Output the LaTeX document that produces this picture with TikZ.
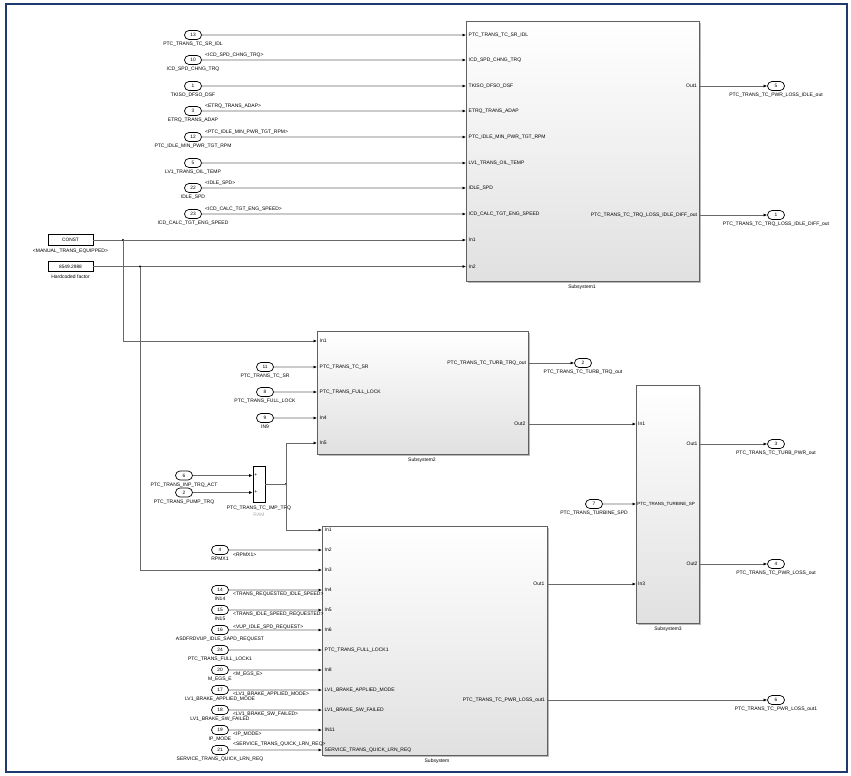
\documentclass[tikz,border=0pt]{standalone}
\usepackage{fontspec}
\setmainfont{Liberation Sans}
\usetikzlibrary{shapes.misc,arrows.meta,positioning,shadows}

\definecolor{framecol}{RGB}{31,58,110}
\definecolor{wirecol}{RGB}{105,105,105}

\tikzset{
  txt/.style={font=\fontsize{5}{5.5}\selectfont, inner sep=0pt},
  portnum/.style={rounded rectangle, draw=black, line width=0.7pt, fill=white,
    minimum width=17pt, minimum height=9pt, inner sep=0pt,
    font=\fontsize{4.8}{5}\selectfont},
  wire/.style={draw=wirecol, line width=0.65pt},
  arr/.style={wire, -{Latex[length=3.5pt,width=3pt,color=black]}},
  subsys/.style={draw=gray!75!black, line width=0.7pt, anchor=north west,
    inner sep=0pt, top color=white, middle color=white, bottom color=gray!24,
    drop shadow={shadow xshift=1.2pt, shadow yshift=-1.2pt, fill=gray!55, opacity=1}},
  constbox/.style={draw=black, line width=0.7pt, fill=white, minimum width=45pt,
    minimum height=10.5pt, inner sep=0pt, font=\fontsize{4.8}{5}\selectfont},
  jdot/.style={circle, fill=black, inner sep=0pt, minimum size=2.4pt},
  frame/.style={draw=framecol, line width=2pt},
}

% an inport/outport oval with its name printed underneath
\newcommand\ioport[5]{%
  \node[portnum] (#1) at (#2,#3) {#4};
  \node[txt, below=2.4pt of #1] {#5};}

\begin{document}
\begin{tikzpicture}[x=1pt,y=-1pt]
\path[use as bounding box] (0,0) rectangle (851,776);
\draw[frame] (5.5,4) rectangle (846.5,772);

% ---------------- subsystem blocks ----------------
\node[subsys, minimum width=233pt, minimum height=260pt] (s1) at (466,21) {};
\node[subsys, minimum width=211pt, minimum height=123pt] (s2) at (317,331) {};
\node[subsys, minimum width=63pt,  minimum height=238pt] (s3) at (636,385) {};
\node[subsys, minimum width=225pt, minimum height=229pt] (s4) at (322,526) {};

\node[txt] at (582,287) {Subsystem1};
\node[txt] at (422,460) {Subsystem2};
\node[txt] at (668,629) {Subsystem3};
\node[txt] at (437,761) {Subsystem};

% ---------------- Subsystem1 inputs ----------------
\ioport{a1}{193}{35}{13}{PTC\_TRANS\_TC\_SR\_IDL}
\ioport{a2}{193}{60}{10}{ICD\_SPD\_CHNG\_TRQ}
\ioport{a3}{193}{86}{1}{TKISO\_DFSO\_DSF}
\ioport{a4}{193}{111}{3}{ETRQ\_TRANS\_ADAP}
\ioport{a5}{193}{137}{12}{PTC\_IDLE\_MIN\_PWR\_TGT\_RPM}
\ioport{a6}{193}{163}{5}{LV1\_TRANS\_OIL\_TEMP}
\ioport{a7}{193}{188}{22}{IDLE\_SPD}
\ioport{a8}{193}{214}{23}{ICD\_CALC\_TGT\_ENG\_SPEED}

\node[txt, anchor=west] at (205,55) {<ICD\_SPD\_CHNG\_TRQ>};
\node[txt, anchor=west] at (205,106) {<ETRQ\_TRANS\_ADAP>};
\node[txt, anchor=west] at (205,132) {<PTC\_IDLE\_MIN\_PWR\_TGT\_RPM>};
\node[txt, anchor=west] at (205,183) {<IDLE\_SPD>};
\node[txt, anchor=west] at (205,209) {<ICD\_CALC\_TGT\_ENG\_SPEED>};

\foreach \p/\t in {a1/PTC\_TRANS\_TC\_SR\_IDL, a2/ICD\_SPD\_CHNG\_TRQ,
    a3/TKISO\_DFSO\_DSF, a4/ETRQ\_TRANS\_ADAP, a5/PTC\_IDLE\_MIN\_PWR\_TGT\_RPM,
    a6/LV1\_TRANS\_OIL\_TEMP, a7/IDLE\_SPD, a8/ICD\_CALC\_TGT\_ENG\_SPEED}{
  \draw[arr] (\p) -- (\p -| s1.west);
  \node[txt, anchor=west, xshift=2.5pt] at (s1.west |- \p) {\t};
}

% constant sources
\node[constbox] (cst) at (70.5,240) {CONST};
\node[txt, below=3pt of cst] {<MANUAL\_TRANS\_EQUIPPED>};
\node[constbox] (hcf) at (70.5,266.5) {8549.2988};
\node[txt, below=3pt of hcf] {Hardcoded factor};

\draw[arr] (cst) -- (cst -| s1.west);
\draw[arr] (hcf) -- (hcf -| s1.west);
\node[txt, anchor=west, xshift=2.5pt] at (s1.west |- cst) {In1};
\node[txt, anchor=west, xshift=2.5pt] at (s1.west |- hcf) {In2};
\node[jdot] (j1) at (123,240) {};
\node[jdot] (j2) at (140,266.5) {};

% Subsystem1 outputs
\ioport{o5}{776}{86}{5}{PTC\_TRANS\_TC\_PWR\_LOSS\_IDLE\_out}
\ioport{o1}{776}{215}{1}{PTC\_TRANS\_TC\_TRQ\_LOSS\_IDLE\_DIFF\_out}
\draw[arr] (s1.east |- o5) -- (o5);
\draw[arr] (s1.east |- o1) -- (o1);
\node[txt, anchor=east, xshift=-2.5pt] at (s1.east |- o5) {Out1};
\node[txt, anchor=east, xshift=-2.5pt] at (s1.east |- o1) {PTC\_TRANS\_TC\_TRQ\_LOSS\_IDLE\_DIFF\_out};

% ---------------- Subsystem2 ----------------
\coordinate (s2in1) at (317,341);
\coordinate (s2in5) at (317,443);
\draw[arr] (j1.center) |- (s2in1);
\node[txt, anchor=west, xshift=2.5pt] at (s2in1) {In1};

\ioport{b1}{265}{367}{11}{PTC\_TRANS\_TC\_SR}
\ioport{b2}{265}{392}{8}{PTC\_TRANS\_FULL\_LOCK}
\ioport{b3}{265}{418}{9}{IN9}
\foreach \p/\t in {b1/PTC\_TRANS\_TC\_SR, b2/PTC\_TRANS\_FULL\_LOCK, b3/In4}{
  \draw[arr] (\p) -- (\p -| s2.west);
  \node[txt, anchor=west, xshift=2.5pt] at (s2.west |- \p) {\t};
}
\node[txt, anchor=west, xshift=2.5pt] at (s2in5) {In5};

\ioport{o2}{583}{363}{2}{PTC\_TRANS\_TC\_TURB\_TRQ\_out}
\draw[arr] (s2.east |- o2) -- (o2);
\node[txt, anchor=east, xshift=-2.5pt] at (s2.east |- o2) {PTC\_TRANS\_TC\_TURB\_TRQ\_out};
\coordinate (s2out2) at (528,424);
\node[txt, anchor=east, xshift=-2.5pt] at (s2out2) {Out2};
\draw[arr] (s2out2) -- (s2out2 -| s3.west);

% ---------------- sum block ----------------
\node[draw=black, line width=0.7pt, fill=white, minimum width=12pt,
  minimum height=36pt, inner sep=0pt] (sum) at (259,484) {};
\node[txt, below=3pt of sum] (sumlbl) {PTC\_TRANS\_TC\_IMP\_TRQ};
\node[txt, text=gray!65, below=3pt of sumlbl] {RAM};
\ioport{c1}{184}{475.5}{6}{PTC\_TRANS\_INP\_TRQ\_ACT}
\ioport{c2}{184}{492.5}{2}{PTC\_TRANS\_PUMP\_TRQ}
\draw[arr] (c1) -- (c1 -| sum.west);
\draw[arr] (c2) -- (c2 -| sum.west);
\node[txt, anchor=west, xshift=1.5pt] at (sum.west |- c1) {+};
\node[txt, anchor=west, xshift=1.5pt] at (sum.west |- c2) {+};
\node[jdot] (j3) at (286,484) {};
\draw[wire] (sum.east) -- (j3.center);
\draw[arr] (j3.center) |- (s2in5);

% ---------------- Subsystem3 ----------------
\node[txt, anchor=west, xshift=2pt] at (s3.west |- s2out2) {In1};
\ioport{d1}{594}{504}{7}{PTC\_TRANS\_TURBINE\_SPD}
\draw[arr] (d1) -- (d1 -| s3.west);
\node[txt, anchor=west, xshift=1.2pt] at (s3.west |- d1) {\fontsize{4.5}{5}\selectfont PTC\_TRANS\_TURBINE\_SP};
\ioport{o3}{776}{444}{3}{PTC\_TRANS\_TC\_TURB\_PWR\_out}
\ioport{o4}{776}{564}{4}{PTC\_TRANS\_TC\_PWR\_LOSS\_out}
\draw[arr] (s3.east |- o3) -- (o3);
\draw[arr] (s3.east |- o4) -- (o4);
\node[txt, anchor=east, xshift=-2pt] at (s3.east |- o3) {Out1};
\node[txt, anchor=east, xshift=-2pt] at (s3.east |- o4) {Out2};

% ---------------- bottom Subsystem ----------------
\coordinate (s4in1) at (322,530);
\coordinate (s4in3) at (322,570);
\draw[arr] (j3.center) |- (s4in1);
\draw[arr] (j2.center) |- (s4in3);
\node[txt, anchor=west, xshift=2.5pt] at (s4in1) {In1};
\node[txt, anchor=west, xshift=2.5pt] at (s4in3) {In3};

\ioport{e2}{220}{550}{4}{RPMX1}
\ioport{e4}{220}{590}{14}{IN14}
\ioport{e5}{220}{610}{15}{IN15}
\ioport{e6}{220}{630}{16}{ASDFRDVUP\_IDLE\_SAPD\_REQUEST}
\ioport{e7}{220}{650}{24}{PTC\_TRANS\_FULL\_LOCK1}
\ioport{e8}{220}{670}{20}{M\_EGS\_E}
\ioport{e9}{220}{690}{17}{LV1\_BRAKE\_APPLIED\_MODE}
\ioport{e10}{220}{710}{18}{LV1\_BRAKE\_SW\_FAILED}
\ioport{e11}{220}{730}{19}{IP\_MODE}
\ioport{e12}{220}{750}{21}{SERVICE\_TRANS\_QUICK\_LRN\_REQ}

\foreach \p/\t in {e2/In2, e4/In4, e5/In5, e6/In6, e7/PTC\_TRANS\_FULL\_LOCK1,
    e8/In8, e9/LV1\_BRAKE\_APPLIED\_MODE, e10/LV1\_BRAKE\_SW\_FAILED, e11/IN11,
    e12/SERVICE\_TRANS\_QUICK\_LRN\_REQ}{
  \draw[arr] (\p) -- (\p -| s4.west);
  \node[txt, anchor=west, xshift=2.5pt] at (s4.west |- \p) {\t};
}

\node[txt, anchor=west] at (233,554.5) {<RPMX1>};
\node[txt, anchor=west] at (233,594.5) {<TRANS\_REQUESTED\_IDLE\_SPEED>};
\node[txt, anchor=west] at (233,614.5) {<TRANS\_IDLE\_SPEED\_REQUESTED>};
\node[txt, anchor=west] at (233,627.5) {<VUP\_IDLE\_SPD\_REQUEST>};
\node[txt, anchor=west] at (233,674.5) {<M\_EGS\_E>};
\node[txt, anchor=west] at (233,694.5) {<LV1\_BRAKE\_APPLIED\_MODE>};
\node[txt, anchor=west] at (233,714.5) {<LV1\_BRAKE\_SW\_FAILED>};
\node[txt, anchor=west] at (233,734) {<IP\_MODE>};
\node[txt, anchor=west] at (233,744.5) {<SERVICE\_TRANS\_QUICK\_LRN\_REQ>};

\coordinate (s4out1) at (547,584);
\draw[arr] (s4out1) -- (s4out1 -| s3.west);
\node[txt, anchor=east, xshift=-2.5pt] at (s4out1) {Out1};
\node[txt, anchor=west, xshift=2pt] at (s3.west |- s4out1) {In3};

\ioport{o6}{776}{700}{6}{PTC\_TRANS\_TC\_PWR\_LOSS\_out1}
\draw[arr] (s4.east |- o6) -- (o6);
\node[txt, anchor=east, xshift=-2.5pt] at (s4.east |- o6) {PTC\_TRANS\_TC\_PWR\_LOSS\_out1};
\end{tikzpicture}
\end{document}
